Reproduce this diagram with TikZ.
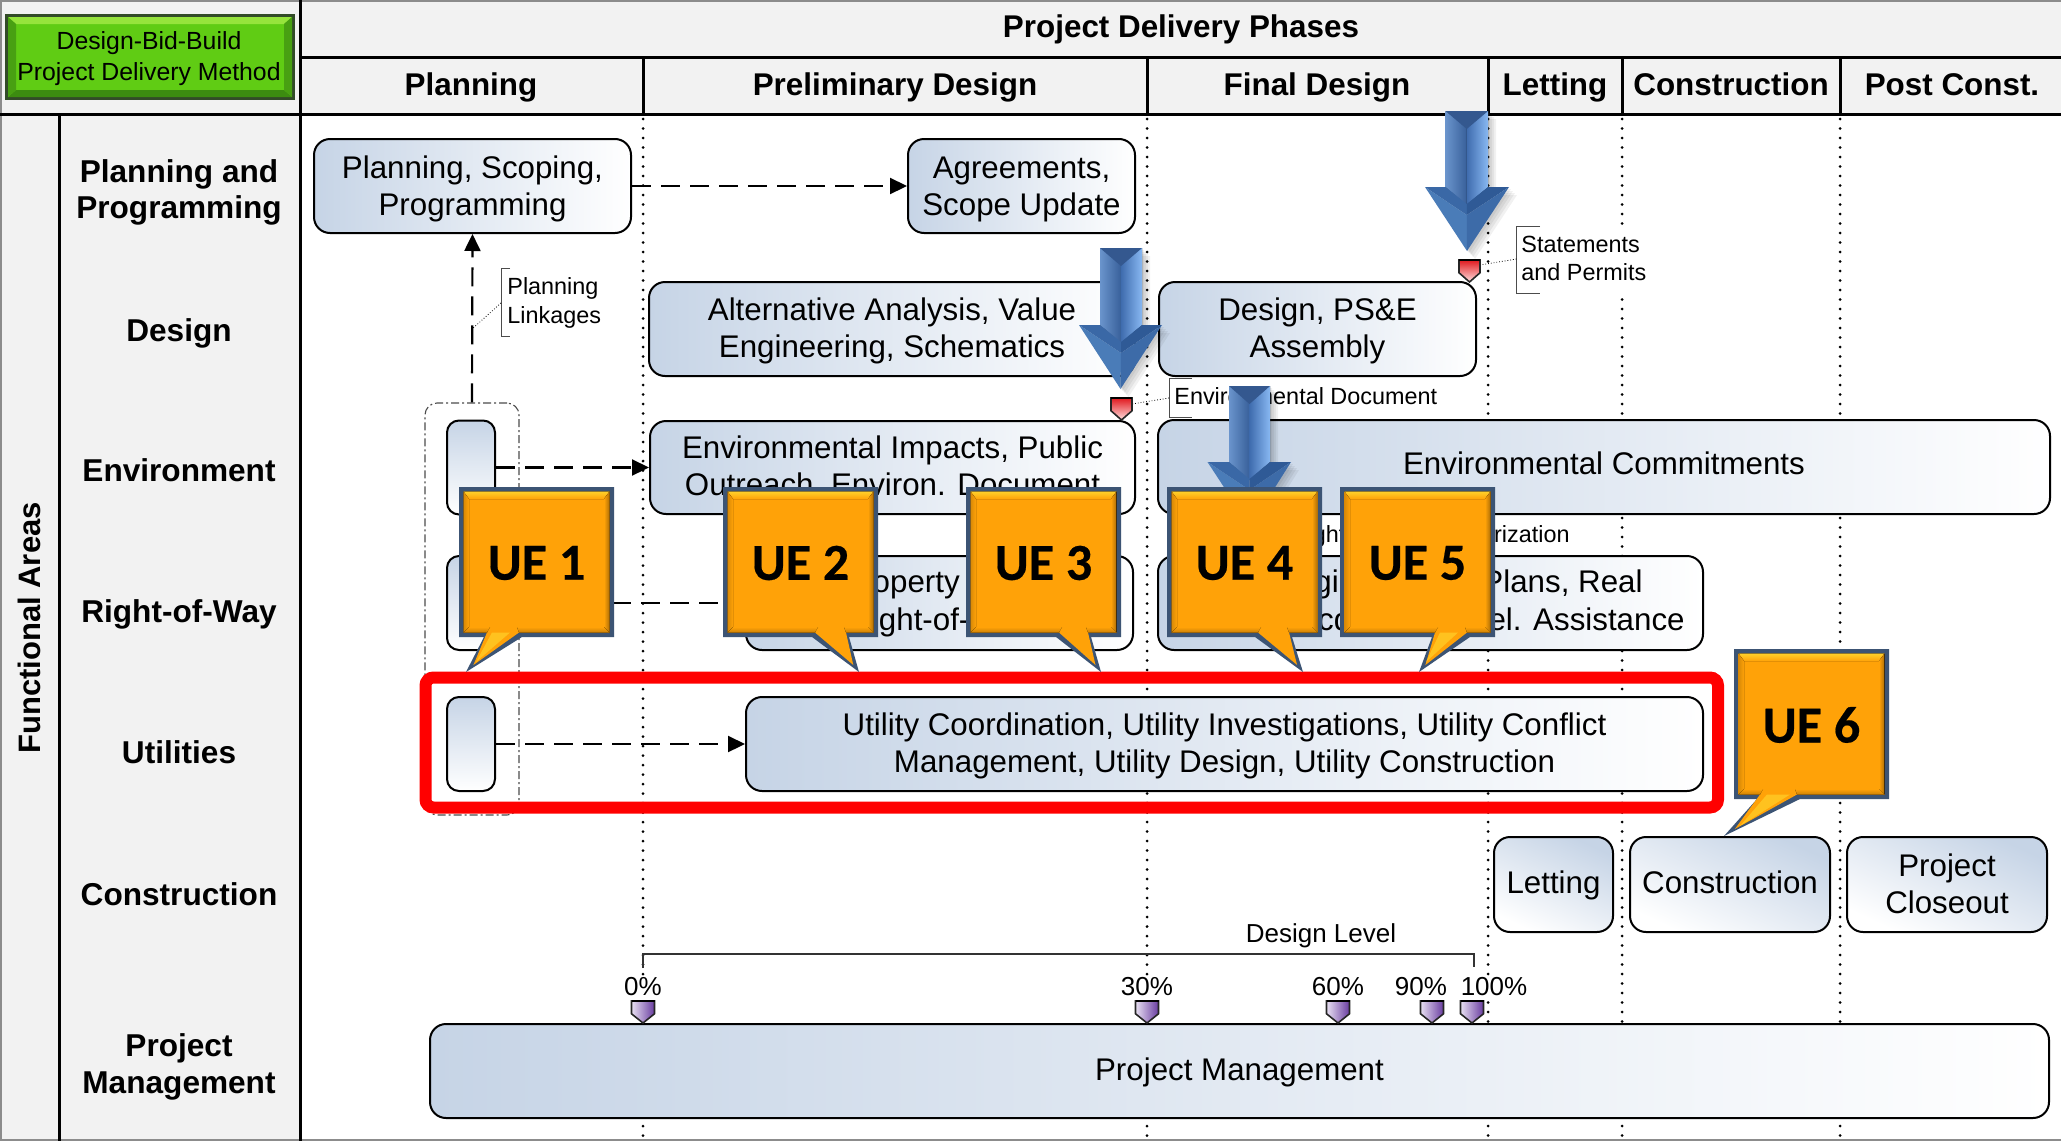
\documentclass[tikz,border=0pt]{standalone}
\usepackage{fontspec}
\setmainfont{Liberation Sans}
\newfontfamily\uefont[BoldFeatures={FakeBold=0.4}]{Carlito}
\usetikzlibrary{arrows.meta,calc,shadings}
\definecolor{panel}{HTML}{F2F2F2}
\definecolor{boxblue}{HTML}{C6D4E6}
\definecolor{boxmid}{HTML}{DCE5F0}
\definecolor{uenavy}{HTML}{3C5474}
\definecolor{ueorange}{HTML}{FFA208}
\definecolor{uegold}{HTML}{FFD02A}
\definecolor{gfill}{RGB}{96,204,20}
\definecolor{gtop}{RGB}{150,228,60}
\definecolor{gbot}{RGB}{60,140,16}
\definecolor{gside}{RGB}{72,160,18}
\definecolor{gedge}{RGB}{50,75,40}
\definecolor{arlite}{RGB}{136,184,242}
\definecolor{arlite2}{RGB}{63,108,174}
\definecolor{arleft}{RGB}{106,148,204}
\definecolor{arcen}{RGB}{56,96,154}
\definecolor{ardark}{RGB}{52,88,143}
\definecolor{arwl}{RGB}{58,104,166}
\definecolor{arwr}{RGB}{47,90,150}
\definecolor{arll}{RGB}{74,124,184}
\definecolor{arlr}{RGB}{61,107,168}
\definecolor{purpd}{RGB}{105,60,160}
\definecolor{purpl}{RGB}{232,224,242}
\definecolor{redt}{RGB}{225,25,30}
\definecolor{redb}{RGB}{255,225,225}
\tikzset{
  hdr/.style={font=\bfseries\fontsize{15.7}{19}\selectfont,inner sep=0pt,anchor=mid},
  rowlab/.style={font=\bfseries\fontsize{15.8}{18.2}\selectfont,align=center,inner sep=0pt},
  frameln/.style={line width=1.5pt,black},
  procst/.style={draw=black,line width=1pt,rounded corners=8pt,left color=boxblue,middle color=boxmid,right color=white,inner sep=0pt},
  diagst/.style={shading angle=-25},
  smallst/.style={draw=black,line width=1pt,rounded corners=6pt,top color=boxblue,bottom color=white,inner sep=0pt},
  boxtxt/.style={font=\fontsize{15.65}{18.5}\selectfont,inner sep=0pt,align=center},
  note/.style={font=\fontsize{11.7}{14}\selectfont,align=left,inner sep=0pt},
  scalelab/.style={font=\fontsize{13}{15}\selectfont,inner sep=0pt},
  pctlab/.style={scalelab,fill=white,inner sep=1pt},
  dashline/.style={line width=1.1pt,black,dash pattern=on 9.5pt off 5pt,-{Triangle[length=8.5pt,width=8pt]}},
  vdots/.style={line width=1.5pt,black,line cap=round,dash pattern=on 0pt off 4.75pt},
  brack/.style={line width=0.5pt,black!70},
  leader/.style={line width=0.4pt,black,densely dotted},
  uelab/.style={font=\uefont\bfseries\fontsize{26}{30}\selectfont,inner sep=0pt},
  purp/.style={left color=purpl,right color=purpd},
  redm/.style={top color=redt,bottom color=redb},
}
\newcommand{\procbox}[7][]{%
  \pgfmathsetmacro{\cxx}{(#3+#5)/2}\pgfmathsetmacro{\cyy}{(#4+#6)/2}%
  \pgfmathsetmacro{\ww}{(#5-#3)*0.5}\pgfmathsetmacro{\hh}{(#6-#4)*0.5}%
  \node[procst,minimum width=\ww pt,minimum height=\hh pt,#1] (#2) at (\cxx,\cyy) {};}
\newcommand{\boxtext}[4]{\node[boxtxt] (#1) at ($(#2)+(0,#3)$) {#4};}
\newcommand{\smallbox}[3]{%
  \node[smallst,minimum width=24pt,minimum height=47pt] (#1) at (#2,#3) {};}
\newcommand{\shieldmark}[5]{% x1 x2 top tip colors(style)
  \pgfmathsetmacro{\mx}{(#1+#2)/2}\pgfmathsetmacro{\my}{#3+(#4-#3)*0.58}%
  \path[draw=black!85,line width=0.8pt,#5] (#1,#3)--(#2,#3)--(#2,\my)--(\mx,#4)--(#1,\my)--cycle;
  \draw[black,line width=1.4pt] (#1,#3)--(#2,#3);}
\newcommand{\uecall}[8]{% name L T baseL baseR tipx tipy label
  \begin{scope}
  \pgfmathsetmacro{\R}{#2+155}\pgfmathsetmacro{\B}{#3+150}%
  \pgfmathsetmacro{\tx}{#6+(((#4+#5)/2)-#6)*0.2}\pgfmathsetmacro{\ty}{#7-7}%
  \fill[uenavy] (#2,#3)--(\R,#3)--(\R,\B)--(#5,\B)--(#6,#7)--(#4,\B)--(#2,\B)--cycle;
  \fill[ueorange] (#2+4.5,#3+4.5)--(\R-4.5,#3+4.5)--(\R-4.5,\B-4.5)--(#5-3,\B-4.5)--(\tx,\ty)--(#4+3,\B-4.5)--(#2+4.5,\B-4.5)--cycle;
  \fill[top color=uegold,bottom color=ueorange] (#2+4.5,#3+4.5)--(\R-4.5,#3+4.5)--(\R-10,#3+12)--(#2+10,#3+12)--cycle;
  \fill[left color=ueorange,right color=black!32!ueorange] (\R-4.5,#3+4.5) -- (\R-4.5,\B-4.5) -- (\R-10,\B-10) -- (\R-10,#3+12) -- cycle;
  \fill[right color=ueorange,left color=black!15!ueorange] (#2+4.5,#3+4.5) -- (#2+4.5,\B-4.5) -- (#2+10,\B-10) -- (#2+10,#3+12) -- cycle;
  \fill[top color=ueorange,bottom color=black!20!ueorange] (#2+4.5,\B-4.5) -- (#4+3,\B-4.5) -- (#4+6,\B-10) -- (#2+10,\B-10) -- cycle;
  \fill[top color=ueorange,bottom color=black!20!ueorange] (\R-4.5,\B-4.5) -- (#5-3,\B-4.5) -- (#5-5,\B-10) -- (\R-10,\B-10) -- cycle;
  \pgfmathsetmacro{\lx}{#2+77.5}\pgfmathsetmacro{\ly}{#3+76}%
  \node[uelab] (#1) at (\lx,\ly) {#8};
  \end{scope}}
\newcommand{\uewedge}[5]{% baseA baseB y tipx tipy
  \fill[uegold,opacity=.7] (#1,#3)--(#2,#3)--(#4,#5)--cycle;}
\newcommand{\bluearrow}[8]{% xl xr top heady hL hR tipx tipy
  \begin{scope}
  \pgfmathsetmacro{\mm}{(#1+#2)/2}%
  \foreach \s in {2,4,6,8}{
   \fill[black,opacity=.055,shift={(\s,\s)}] (#1,#3)--(#2,#3)--(#2,#4)--(#6,#4)--(#7,#8)--(#5,#4)--(#1,#4)--cycle;}
  \fill[left color=arleft,right color=arcen] (#1,#3)--(\mm,#3)--(\mm,#4+18)--(#1,#4)--cycle;
  \fill[left color=arlite2,right color=arlite] (\mm,#3)--(#2,#3)--(#2,#4)--(\mm,#4+18)--cycle;
  \fill[ardark] (#1,#3)--(#2,#3)--(\mm,#3+18)--cycle;
  \fill[arwl] (#5,#4)--(#1,#4)--(\mm,#4+17)--(\mm,#4+28)--cycle;
  \fill[arwr] (#6,#4)--(#2,#4)--(\mm,#4+17)--(\mm,#4+28)--cycle;
  \fill[arll] (#5,#4)--(\mm,#4+28)--(#7,#8)--cycle;
  \fill[arlr] (#6,#4)--(\mm,#4+28)--(#7,#8)--cycle;
  \end{scope}}
\begin{document}
\begin{tikzpicture}[x=0.5pt,y=-0.5pt]
\useasboundingbox (0,0) rectangle (2061,1141);
% panels
\fill[white] (0,0) rectangle (2061,1141);
\fill[panel] (0,0) rectangle (2061,114);
\fill[panel] (0,114) rectangle (300,1141);
% dotted phase lines
\foreach \dx in {643,1147,1488,1622,1840}{\draw[vdots] (\dx,119)--(\dx,1141);}
% grid
\draw[line width=1pt,black!45] (0,0.8)--(2061,0.8);
\draw[line width=1pt,black!45] (0.8,0)--(0.8,1141);
\draw[line width=1pt,black!45] (0,1140)--(2061,1140);
\draw[frameln] (300,57)--(2061,57);
\draw[frameln] (0,114)--(2061,114);
\draw[frameln] (300,0)--(300,1141);
\draw[frameln] (59,114)--(59,1141);
\foreach \dx in {643,1147.5,1488,1622,1840}{\draw[frameln] (\dx,57)--(\dx,114);}
% green method box
\fill[gedge] (5,14) rectangle (295,100);
\fill[gfill] (8,17) rectangle (292,97);
\fill[gtop] (8,17)--(292,17)--(284,24)--(16,24)--cycle;
\fill[gbot] (8,97)--(292,97)--(284,90)--(16,90)--cycle;
\fill[gside] (292,17)--(292,97)--(284,90)--(284,24)--cycle;
\fill[gside] (8,17)--(8,97)--(16,90)--(16,24)--cycle;
\node[font=\fontsize{12.4}{15.2}\selectfont,align=center,inner sep=0pt] (method) at (149,58.5) {Design-Bid-Build\\Project Delivery Method};
% headers
\node[hdr] (phases) at (1181,32.5) {Project Delivery Phases};
\node[hdr] (hplan) at (471,90.5) {Planning};
\node[hdr] (hprel) at (895,90.5) {Preliminary Design};
\node[hdr] (hfin) at (1317,90.5) {Final Design};
\node[hdr] (hlet) at (1555,90.5) {Letting};
\node[hdr] (hcon) at (1731,90.5) {Construction};
\node[hdr] (hpost) at (1952,90.5) {Post Const.};
% row labels
\node[rowlab,rotate=90,font=\bfseries\fontsize{15.5}{18}\selectfont] (func) at (29,628) {Functional Areas};
\node[rowlab] (r1) at (179,192.5) {Planning and\\Programming};
\node[rowlab,anchor=mid] (r2) at (179,336.5) {Design};
\node[rowlab,anchor=mid] (r3) at (179,476) {Environment};
\node[rowlab,anchor=mid] (r4) at (179,617) {Right-of-Way};
\node[rowlab,anchor=mid] (r5) at (179,758) {Utilities};
\node[rowlab,anchor=mid] (r6) at (179,900) {Construction};
\node[rowlab] (r7) at (179,1067) {Project\\Management};
% group
\node[draw=black!70,line width=0.55pt,dash pattern=on 4pt off 1.5pt on 1pt off 1.5pt,rounded corners=6pt,minimum width=47pt,minimum height=206pt,inner sep=0pt] (grp) at (472,609) {};
% process boxes
\procbox{plan}{314}{139}{631}{233}{}
\boxtext{plant}{plan}{2.6}{Planning, Scoping,\\Programming}
\procbox{agree}{908}{139}{1135}{233}{}
\boxtext{agreet}{agree}{3}{Agreements,\\Scope Update}
\procbox{alt}{649}{282}{1135}{376}{}
\boxtext{altt}{alt}{2}{Alternative Analysis, Value\\Engineering, Schematics}
\procbox{pse}{1159}{282}{1476}{376}{}
\boxtext{pset}{pse}{1.5}{Design, PS\&E\\Assembly}
\procbox{envimp}{650}{421}{1135}{514}{}
\boxtext{envimpt}{envimp}{0}{Environmental Impacts, Public\\Outreach, Environ. Document}
\procbox{envcom}{1158}{420}{2050}{514}{}
\boxtext{envcomt}{envcom}{-4}{Environmental Commitments}
\procbox{rowp}{746}{556}{1133}{650}{}
\node[boxtxt,anchor=mid west] (rowp1) at (841,587.5) {Property};
\node[boxtxt,anchor=mid west] (rowp2) at (849,625.5) {Right-of-Way};
\procbox{rowf}{1158}{556}{1703}{650}{}
\node[boxtxt,anchor=mid east] (rowf1) at (1643,587.5) {Engineering,\hspace{11pt} Plans, Real};
\node[boxtxt,anchor=mid east] (rowf2) at (1685,625.5) {Acquisition, Rel. Assistance};
\procbox{util}{746}{697}{1703}{791}{}
\boxtext{utilt}{util}{2}{Utility Coordination, Utility Investigations, Utility Conflict\\Management, Utility Design, Utility Construction}
\procbox[diagst]{letb}{1494}{837}{1613}{932}{}
\boxtext{letbt}{letb}{1}{Letting}
\procbox[diagst]{conb}{1630}{837}{1830}{932}{}
\boxtext{conbt}{conb}{-2}{Construction}
\procbox[diagst]{clos}{1847}{837}{2047}{932}{}
\boxtext{clost}{clos}{-1}{Project\\Closeout}
\procbox{pm}{430}{1024}{2049}{1118}{}
\boxtext{pmt}{pm}{1}{Project Management}
\smallbox{sm3}{471}{467.5}
\smallbox{sm4}{471}{603}
\smallbox{sm5}{471}{744}
% connectors
\draw[dashline] (plan.east)--(agree.west);
\draw[dashline] (grp.north)--(plan.south);
\draw[dashline] (sm3.east)--(envimp.west);
\draw[dashline] (sm4.east)--(rowp.west);
\draw[dashline] (sm5.east)--(util.west);
% notes
\draw[brack] (510,268)--(501,268)--(501,336)--(510,336);
\coordinate (pl1) at (501,303); \coordinate (pl2) at (472,329);
\draw[leader] (pl1)--(pl2);
\node[note,anchor=mid west] (linkn) at (507,289.6) {Planning};
\node[note,anchor=mid west] (linkn2) at (507,318.6) {Linkages};
\draw[brack] (1192,378)--(1169,378)--(1169,417)--(1192,417);
\coordinate (ed1) at (1169,398); \coordinate (ed2) at (1132,404);
\draw[leader] (ed1)--(ed2);
\node[note,anchor=mid west] (edn) at (1174,399.6) {Environmental Document};
\fill[white] (1517,227) rectangle (1650,292);
\draw[brack] (1540,226)--(1516.5,226)--(1516.5,293)--(1540,293);
\coordinate (sp1) at (1516.5,259); \coordinate (sp2) at (1480,265);
\draw[leader] (sp1)--(sp2);
\node[note,anchor=mid west] (spn) at (1521,247.6) {Statements};
\node[note,anchor=mid west] (spn2) at (1521,275.6) {and Permits};
\node[note,anchor=mid east] (auth) at (1570,537.6) {Right-of-Way Authorization};
% design level
\coordinate (dl1) at (643,968); \coordinate (dl2) at (643,954); \coordinate (dl3) at (1474,954); \coordinate (dl4) at (1474,967);
\draw[line width=0.9pt,black!80] (dl1)--(dl2)--(dl3)--(dl4);
\node[scalelab] (dln) at (1321,935.5) {Design Level};
\node[pctlab] (p0) at (643,987) {0\%};
\node[pctlab] (p30) at (1147,987) {30\%};
\node[pctlab] (p60) at (1338,987) {60\%};
\node[pctlab] (p90) at (1421,987) {90\%};
\node[pctlab] (p100) at (1494,987) {100\%};
\foreach \mk in {643,1147,1338,1432,1472}{\shieldmark{\mk-11.5}{\mk+11.5}{1001}{1023}{purp}}
\shieldmark{1459}{1480}{260}{282}{redm}
\shieldmark{1111}{1132}{398}{420}{redm}
% red highlight
\draw[red,line width=6pt,rounded corners=4pt] (425.5,677.5) rectangle (1718,807.5);
% blue arrows
\bluearrow{1445.5}{1488}{111}{187}{1425}{1509}{1467}{251}
\bluearrow{1100}{1142}{248}{325}{1079}{1162}{1120.5}{389}
\bluearrow{1229}{1270}{386}{462}{1207.5}{1291}{1250}{527}
% callouts
\uecall{ue1}{459}{487}{484}{522}{466}{672}{UE 1}
\uewedge{492}{510}{632.5}{476}{662}
\uecall{ue2}{723}{487}{812}{849}{859}{672}{UE 2}
\uecall{ue3}{966}{487}{1056}{1091}{1101}{672}{UE 3}
\uecall{ue4}{1167}{487}{1255}{1292}{1303}{672}{UE 4}
\uecall{ue5}{1340}{487}{1432}{1470}{1419}{672}{UE 5}
\uewedge{1440}{1458}{632.5}{1426}{662}
\uecall{ue6}{1734}{649}{1757}{1800}{1724}{836}{UE 6}
\uewedge{1767}{1790}{794.5}{1740}{826}
\end{tikzpicture}
\end{document}
